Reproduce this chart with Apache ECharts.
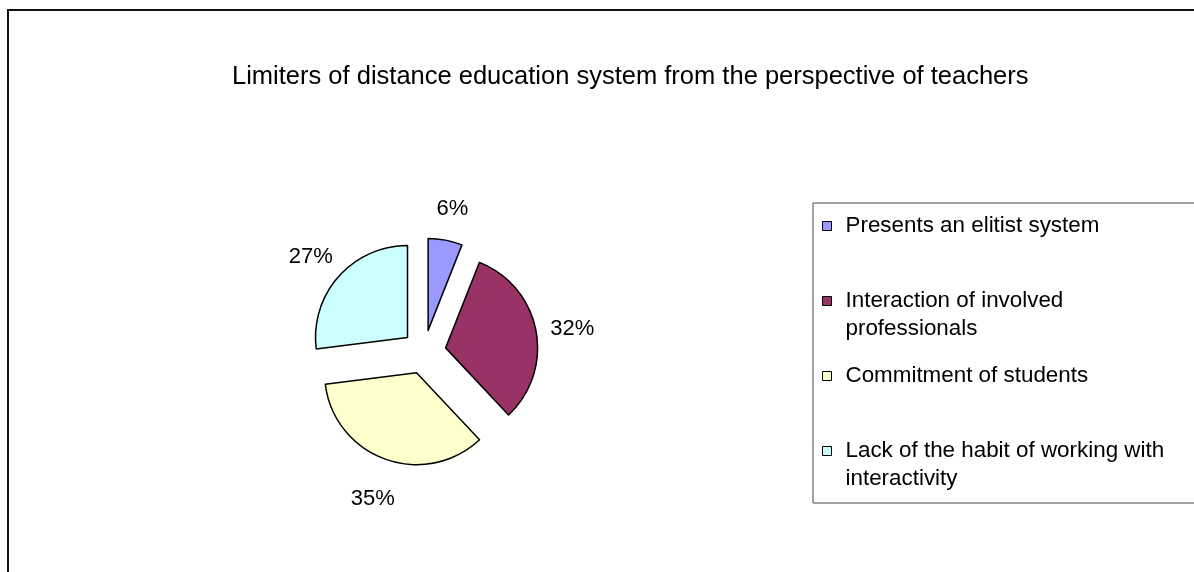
<!DOCTYPE html>
<html>
<head>
<meta charset="utf-8">
<script src="https://cdn.jsdelivr.net/npm/echarts@6/dist/echarts.min.js"></script>
<style>
    html, body { margin: 0; padding: 0; background: #fff; }
    #main { width: 1194px; height: 572px; }
</style>
</head>
<body>
<div id="main"></div>
<script>
/** 标题 */
var titleText = 'Limiters of distance education system from the perspective of teachers';
/** 类别 */
var categories = [
    'Presents an elitist system',
    'Interaction of involved professionals',
    'Commitment of students',
    'Lack of the habit of working with interactivity'
];
/** 百分比 */
var values = [6, 32, 35, 27];
/** 扇区颜色 */
var colors = ['#9999ff', '#993366', '#ffffcc', '#ccffff'];

var fontFamily = '"Liberation Sans", Arial, sans-serif';
var legendFontSize = 22.4;
var legendWrapWidth = 340;

/**
 * 按宽度折行
 */
function wrapText(text, maxWidth, font) {
    var ctx = document.createElement('canvas').getContext('2d');
    ctx.font = font;
    var words = text.split(' ');
    var lines = [];
    var cur = '';
    for (var i = 0; i < words.length; i++) {
        var test = cur ? cur + ' ' + words[i] : words[i];
        if (cur && ctx.measureText(test).width > maxWidth) {
            lines.push(cur);
            cur = words[i];
        } else {
            cur = test;
        }
    }
    if (cur) lines.push(cur);
    return lines;
}

var pieData = categories.map(function (name, i) {
    return { name: name, value: values[i], selected: true };
});

var myChart = echarts.init(document.getElementById('main'));

var option = {
    animation: false,
    color: colors,
    title: {
        text: titleText,
        left: 232,
        top: 64,
        padding: 0,
        textStyle: {
            fontFamily: fontFamily,
            fontSize: 25.5,
            fontWeight: 'normal',
            color: '#000'
        }
    },
    legend: {
        orient: 'vertical',
        left: 813,
        top: 203,
        padding: [9, 40, 10, 9],
        itemGap: 19,
        itemWidth: 9,
        itemHeight: 9,
        icon: 'rect',
        selectedMode: false,
        borderColor: '#444',
        borderWidth: 1,
        itemStyle: { borderColor: '#000', borderWidth: 1 },
        data: categories,
        textStyle: {
            fontFamily: fontFamily,
            fontSize: legendFontSize,
            lineHeight: 28,
            color: '#000',
            padding: [0, 0, 0, 9]
        },
        formatter: function (name) {
            var lines = wrapText(name, legendWrapWidth, legendFontSize + 'px ' + fontFamily);
            // 首行与图标对齐
            return new Array(lines.length).join('\n') + lines.join('\n');
        }
    },
    graphic: [{
        type: 'rect',
        z: -10,
        silent: true,
        shape: { x: 8, y: 10, width: 1300, height: 700 },
        style: { fill: 'none', stroke: '#111', lineWidth: 2 }
    }],
    series: [
        {
            name: 'pie',
            type: 'pie',
            center: [424, 352],
            radius: 92,
            startAngle: 90,
            clockwise: true,
            selectedMode: 'multiple',
            selectedOffset: 22,
            avoidLabelOverlap: false,
            silent: true,
            label: { show: false },
            labelLine: { show: false },
            itemStyle: { borderColor: '#000', borderWidth: 1.5 },
            emphasis: { disabled: true },
            data: pieData
        },
        {
            // 百分比标签
            name: 'labels',
            type: 'pie',
            center: [424, 357],
            radius: [0, 252],
            startAngle: 90,
            clockwise: true,
            selectedMode: 'multiple',
            selectedOffset: 22,
            avoidLabelOverlap: false,
            silent: true,
            itemStyle: { color: 'rgba(0,0,0,0)', borderWidth: 0 },
            emphasis: { disabled: true },
            label: {
                show: true,
                position: 'inside',
                formatter: '{d}%',
                fontFamily: fontFamily,
                fontSize: 22,
                color: '#000'
            },
            labelLine: { show: false },
            data: pieData
        }
    ]
};

myChart.setOption(option);
</script>
</body>
</html>
